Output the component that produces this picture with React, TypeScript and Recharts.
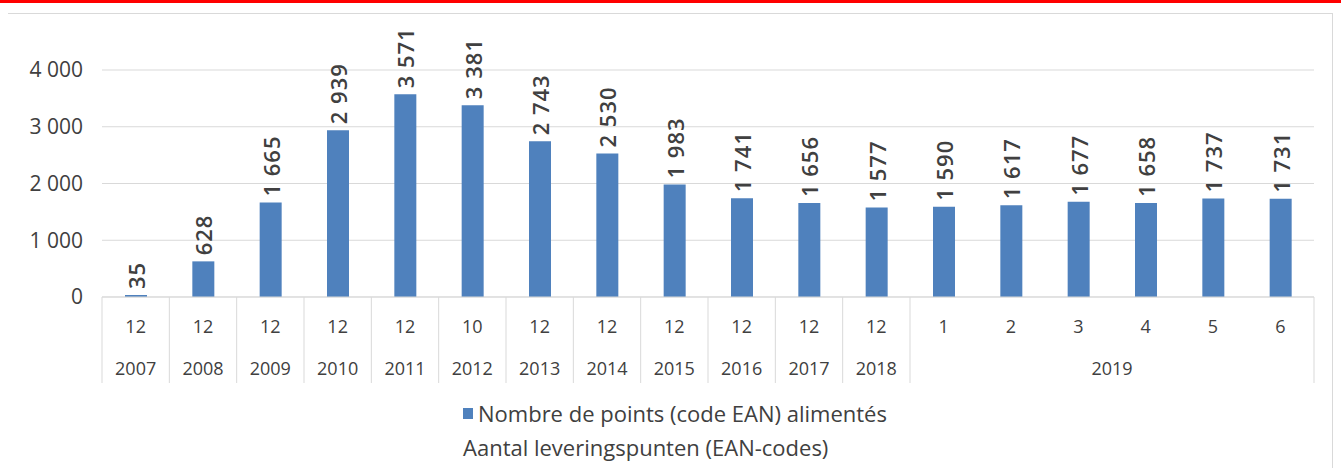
import React from 'react';
import { BarChart, Bar, XAxis, YAxis, CartesianGrid, LabelList } from 'recharts';

const months = ['12', '12', '12', '12', '12', '10', '12', '12', '12', '12', '12', '12', '1', '2', '3', '4', '5', '6'];
const years = ['2007', '2008', '2009', '2010', '2011', '2012', '2013', '2014', '2015', '2016', '2017', '2018', '2019', '2019', '2019', '2019', '2019', '2019'];
const values = [35, 628, 1665, 2939, 3571, 3381, 2743, 2530, 1983, 1741, 1656, 1577, 1590, 1617, 1677, 1658, 1737, 1731];
const yTicks = [0, 1000, 2000, 3000, 4000];

const seriesName = 'Nombre de points (code EAN) alimentés';
const seriesName2 = 'Aantal leveringspunten (EAN-codes)';

const data = values.map((v, i) => ({ key: `${years[i]}-${months[i]}-${i}`, value: v }));

const FONT = '"Open Sans", sans-serif';
const TEXT = '#404040';
const LINE = '#d9d9d9';
const BLUE = '#4f81bd';

const fmt = (v: number) => v.toLocaleString('fr-FR').replace(/\s/g, ' ');

const CategoryTick = (props: any) => {
  const { x, y, payload } = props;
  const i = payload.index;
  const half = payload.offset || 33.6;
  const band = half * 2;
  const year = years[i];
  const isStart = i === 0 || years[i - 1] !== year;
  const isLast = i === years.length - 1;
  let groupLen = 0;
  if (isStart) {
    let j = i;
    while (j < years.length && years[j] === year) j++;
    groupLen = j - i;
  }
  return (
    <g>
      {isStart && <line x1={x - half} x2={x - half} y1={y} y2={y + 86} stroke={LINE} />}
      {isLast && <line x1={x + half} x2={x + half} y1={y} y2={y + 86} stroke={LINE} />}
      <text x={x} y={y + 29} textAnchor="middle" dominantBaseline="central" fontSize={18} fill={TEXT} fontFamily={FONT}>
        {months[i]}
      </text>
      {isStart && (
        <text
          x={x + ((groupLen - 1) * band) / 2}
          y={y + 71}
          textAnchor="middle"
          dominantBaseline="central"
          fontSize={18}
          fill={TEXT}
          fontFamily={FONT}
        >
          {year}
        </text>
      )}
    </g>
  );
};

const ValueLabel = (props: any) => {
  const { x, y, width, value } = props;
  const cx = x + width / 2;
  const ty = y - 6;
  return (
    <text
      x={cx}
      y={ty}
      transform={`rotate(-90 ${cx} ${ty})`}
      textAnchor="start"
      dominantBaseline="central"
      fontSize={22}
      fontWeight={600}
      letterSpacing={1}
      fill={TEXT}
      fontFamily={FONT}
    >
      {fmt(value)}
    </text>
  );
};

export default function App() {
  return (
    <div style={{ position: 'relative', margin: -8, width: 1341, height: 476, background: '#fff', overflow: 'hidden' }}>
      <div
        style={{
          position: 'absolute',
          left: 7,
          top: 13,
          width: 1326,
          height: 480,
          border: `1px solid ${LINE}`,
          boxSizing: 'border-box',
        }}
      />
      <div style={{ position: 'absolute', left: 0, top: 0 }}>
        <BarChart width={1341} height={476} data={data} margin={{ top: 70, right: 27, bottom: 93, left: 0 }}>
          <CartesianGrid vertical={false} stroke={LINE} />
          <XAxis
            dataKey="key"
            interval={0}
            height={86}
            tickSize={0}
            tickMargin={0}
            tickLine={false}
            axisLine={{ stroke: LINE }}
            tick={<CategoryTick />}
          />
          <YAxis
            width={102}
            domain={[0, 4000]}
            ticks={yTicks}
            axisLine={false}
            tickLine={false}
            tickSize={0}
            tickMargin={19}
            tickFormatter={fmt}
            tick={{ fontSize: 21, fill: TEXT, fontFamily: FONT }}
          />
          <Bar dataKey="value" name={seriesName} fill={BLUE} barSize={22} isAnimationActive={false}>
            <LabelList dataKey="value" content={<ValueLabel />} />
          </Bar>
        </BarChart>
      </div>
      <div
        style={{
          position: 'absolute',
          left: 463,
          top: 396,
          fontFamily: FONT,
          fontSize: 22,
          color: TEXT,
          lineHeight: '34px',
          whiteSpace: 'nowrap',
        }}
      >
        <div style={{ display: 'flex', alignItems: 'center' }}>
          <span style={{ width: 10, height: 11, background: BLUE, display: 'inline-block', marginRight: 5 }} />
          {seriesName}
        </div>
        <div>{seriesName2}</div>
      </div>
      <div style={{ position: 'fixed', left: 0, top: 0, width: 1341, height: 3, background: '#ff0000', zIndex: 5 }} />
    </div>
  );
}
